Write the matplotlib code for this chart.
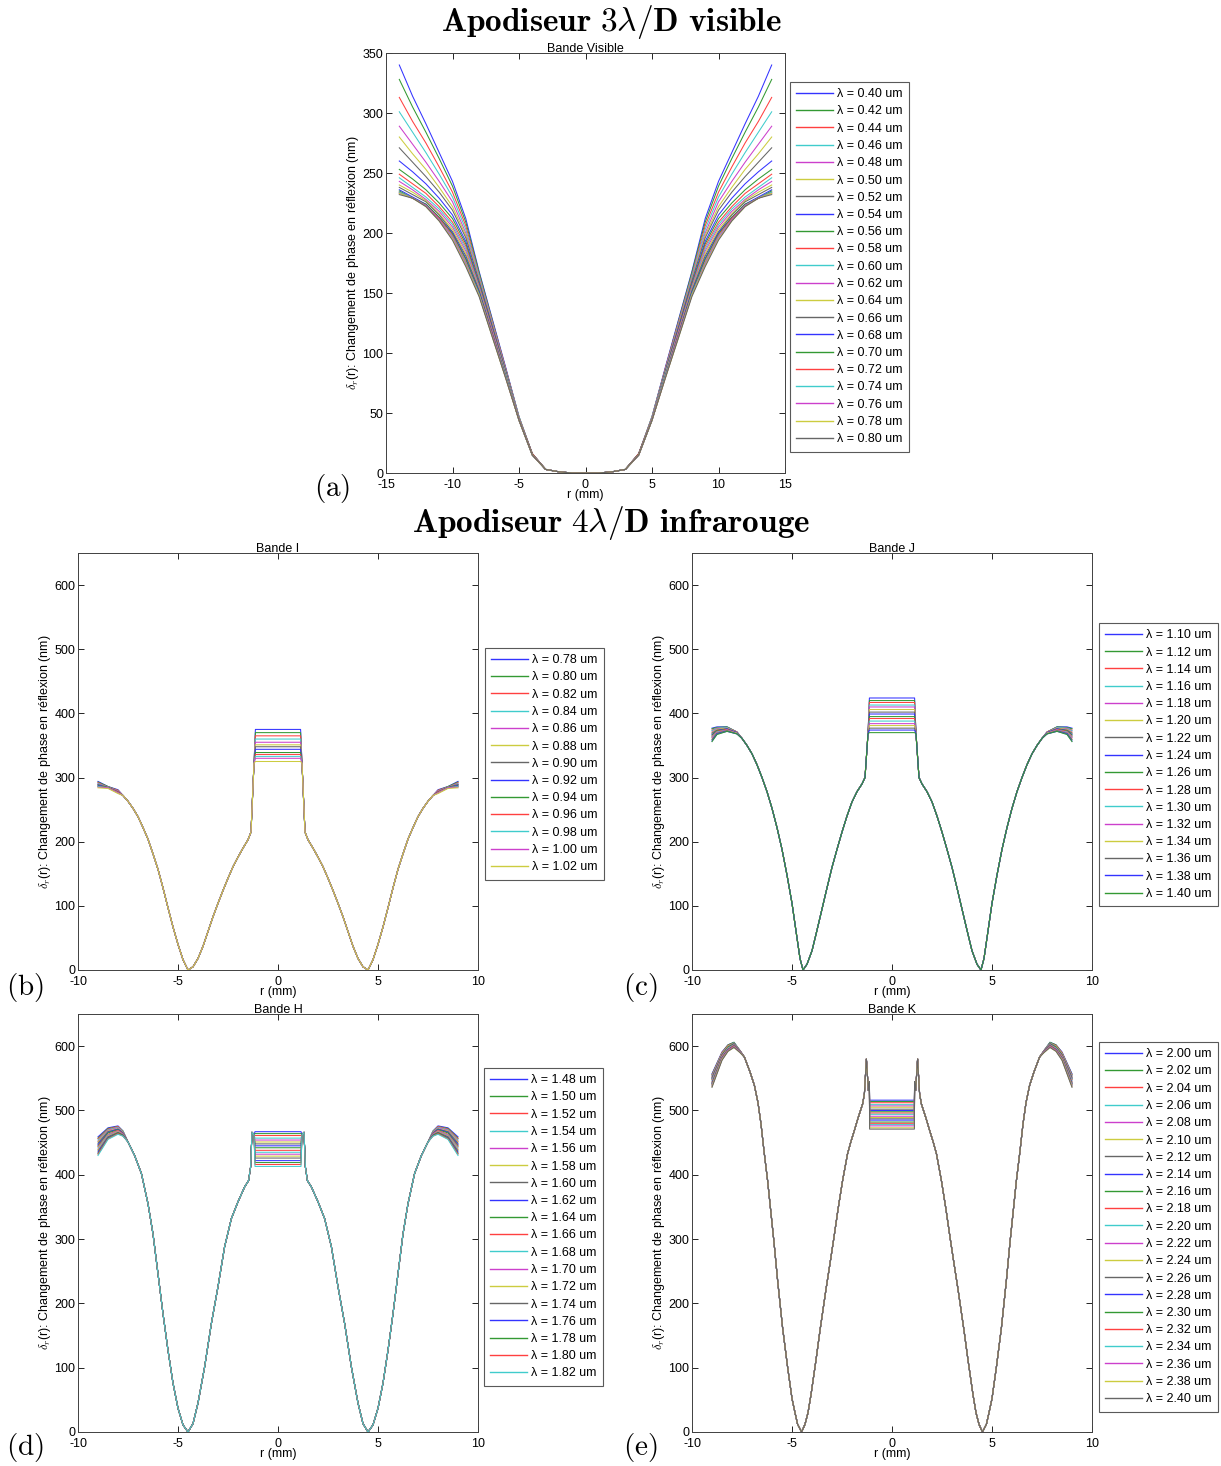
import numpy as np
import matplotlib
matplotlib.use('Agg')
import matplotlib.pyplot as plt

plt.rcParams['font.family'] = ['Liberation Sans', 'DejaVu Sans']
plt.rcParams['mathtext.fontset'] = 'cm'
plt.rcParams['axes.unicode_minus'] = False

# ---------------- Bande Visible (3 lambda/D) ----------------
vis_lambdas = [0.40, 0.42, 0.44, 0.46, 0.48, 0.50, 0.52, 0.54, 0.56, 0.58, 0.60,
               0.62, 0.64, 0.66, 0.68, 0.70, 0.72, 0.74, 0.76, 0.78, 0.80]
vis_r = [14, 13, 12, 11, 10, 9, 8, 7, 6, 5, 4, 3, 2, 1, 0]
vis_values = [
    [340, 314, 291, 267, 243, 212, 168, 128, 88, 47, 16, 3, 1, 0, 0],
    [328, 305, 284, 262, 239, 209, 167, 127, 87, 47, 16, 3, 1, 0, 0],
    [313, 293, 275, 255, 234, 206, 165, 126, 87, 46, 16, 3, 1, 0, 0],
    [301, 284, 267, 249, 230, 203, 164, 125, 86, 46, 16, 3, 1, 0, 0],
    [289, 274, 259, 243, 226, 200, 162, 124, 86, 46, 16, 3, 1, 0, 0],
    [280, 266, 253, 238, 222, 198, 161, 123, 85, 46, 16, 3, 1, 0, 0],
    [271, 259, 247, 234, 219, 196, 160, 122, 85, 45, 16, 3, 1, 0, 0],
    [260, 251, 241, 229, 215, 193, 158, 121, 84, 45, 16, 3, 1, 0, 0],
    [253, 245, 236, 225, 212, 191, 157, 120, 84, 45, 16, 3, 1, 0, 0],
    [249, 241, 233, 222, 209, 189, 156, 119, 83, 45, 16, 3, 1, 0, 0],
    [246, 238, 230, 220, 207, 187, 155, 118, 83, 45, 15, 3, 1, 0, 0],
    [243, 236, 228, 218, 205, 185, 154, 118, 82, 45, 15, 3, 1, 0, 0],
    [240, 234, 227, 216, 203, 183, 153, 117, 82, 44, 15, 3, 1, 0, 0],
    [238, 232, 226, 215, 201, 181, 152, 116, 81, 44, 15, 3, 1, 0, 0],
    [236, 230, 224, 213, 200, 179, 151, 116, 81, 44, 15, 3, 1, 0, 0],
    [235, 229, 224, 213, 199, 178, 150, 115, 80, 44, 15, 3, 1, 0, 0],
    [234, 229, 223, 212, 198, 176, 149, 115, 80, 44, 15, 3, 1, 0, 0],
    [234, 229, 223, 211, 197, 175, 149, 114, 80, 44, 15, 3, 1, 0, 0],
    [233, 229, 223, 211, 196, 174, 148, 114, 79, 44, 15, 3, 1, 0, 0],
    [233, 229, 222, 210, 195, 173, 148, 113, 79, 44, 15, 3, 1, 0, 0],
    [232, 229, 222, 210, 194, 172, 147, 113, 79, 44, 15, 3, 1, 0, 0],
]

# ---------------- Bande I ----------------
I_lambdas = [0.78, 0.80, 0.82, 0.84, 0.86, 0.88, 0.90, 0.92, 0.94, 0.96, 0.98, 1.00, 1.02]
I_plateau_end = 1.13
I_plateau = [375, 370, 365, 360, 355, 351, 348, 344, 339, 336, 333, 330, 325]
I_r = [1.2, 1.35, 1.5, 1.75, 2.0, 2.25, 2.5, 2.75, 3.0, 3.25, 3.5, 3.75, 4.0, 4.25, 4.5,
       4.75, 5.0, 5.25, 5.5, 5.75, 6.0, 6.25, 6.5, 6.75, 7.0, 7.25, 7.5, 7.75]
I_y = [322, 215, 203, 190, 176, 161, 143, 124, 104, 83, 60, 37, 18, 5, 0,
       16, 40, 67, 97, 128, 157, 181, 204, 222, 239, 252, 263, 272]
I_edge_r = [8.0, 8.5, 9.0]
I_edge = [
    [281, 286, 294], [280, 286, 293], [280, 285, 292], [279, 285, 291],
    [279, 285, 290], [278, 285, 289], [278, 285, 289], [277, 284, 288],
    [277, 284, 287], [277, 284, 286], [276, 284, 286], [276, 284, 285],
    [275, 283, 284],
]

# ---------------- Bande J ----------------
J_lambdas = [1.10, 1.12, 1.14, 1.16, 1.18, 1.20, 1.22, 1.24, 1.26, 1.28, 1.30,
             1.32, 1.34, 1.36, 1.38, 1.40]
J_plateau_end = 1.13
J_plateau = [424, 420, 417, 413, 410, 406, 402, 399, 395, 392, 388, 384, 381, 377, 374, 370]
J_r = [1.2, 1.35, 1.5, 1.75, 2.0, 2.25, 2.5, 2.75, 3.0, 3.25, 3.5, 3.75, 4.0, 4.25, 4.45,
       4.6, 4.75, 5.0, 5.25, 5.5, 5.75, 6.0, 6.25, 6.5, 6.75, 7.0, 7.25, 7.5]
J_y = [368, 300, 290, 278, 262, 240, 215, 188, 160, 128, 95, 62, 30, 9, 0,
       18, 50, 104, 148, 188, 222, 252, 278, 300, 320, 337, 350, 361]
J_edge_r = [7.75, 8.25, 8.75, 9.0]
J_edge = [
    [371, 379, 379, 377], [371, 379, 378, 376], [371, 378, 377, 374], [370, 378, 377, 373],
    [370, 377, 376, 371], [370, 377, 375, 370], [370, 376, 374, 369], [370, 376, 373, 367],
    [369, 375, 373, 366], [369, 375, 372, 364], [369, 374, 371, 363], [369, 374, 370, 362],
    [369, 373, 369, 360], [368, 373, 369, 359], [368, 372, 368, 357], [368, 372, 367, 356],
]

# ---------------- Bande H ----------------
H_lambdas = [1.48, 1.50, 1.52, 1.54, 1.56, 1.58, 1.60, 1.62, 1.64, 1.66, 1.68,
             1.70, 1.72, 1.74, 1.76, 1.78, 1.80, 1.82]
H_plateau_end = 1.15
H_plateau = [467, 464, 461, 457, 454, 451, 448, 445, 442, 438, 435, 432, 429, 426,
             422, 419, 416, 413]
H_r = [1.2, 1.3, 1.37, 1.47, 1.67, 2.0, 2.33, 2.67, 3.0, 3.33, 3.67, 4.0, 4.25, 4.5,
       4.75, 5.0, 5.25, 5.5, 5.75, 6.0, 6.25, 6.5, 6.83, 7.17, 7.5]
H_y = [462, 466, 412, 391, 381, 358, 332, 288, 226, 169, 101, 45, 13, 0,
       11, 37, 76, 127, 184, 246, 308, 355, 402, 430, 451]
H_edge_r = [7.75, 8.0, 8.5, 9.0]
H_edge = [
    [468, 476, 473, 459], [468, 475, 472, 457], [467, 475, 471, 456], [467, 474, 470, 454],
    [466, 473, 469, 452], [466, 472, 468, 451], [465, 471, 467, 449], [465, 471, 466, 447],
    [464, 470, 465, 445], [464, 469, 463, 444], [463, 468, 462, 442], [463, 468, 461, 440],
    [462, 467, 460, 439], [462, 466, 459, 437], [461, 465, 458, 435], [461, 465, 457, 433],
    [460, 464, 456, 432], [460, 463, 455, 430],
]

# ---------------- Bande K ----------------
K_lambdas = [2.00, 2.02, 2.04, 2.06, 2.08, 2.10, 2.12, 2.14, 2.16, 2.18, 2.20,
             2.22, 2.24, 2.26, 2.28, 2.30, 2.32, 2.34, 2.36, 2.38, 2.40]
K_plateau_end = 1.12
K_plateau = [516, 514, 512, 509, 507, 505, 502, 500, 498, 496, 494, 491, 489, 487,
             485, 482, 480, 478, 476, 473, 471]
K_r = [1.13, 1.18, 1.28, 1.38, 1.47, 1.7, 1.88, 2.05, 2.22, 2.47, 2.7, 2.9, 3.1, 3.3,
       3.6, 3.8, 4.05, 4.2, 4.35, 4.52, 4.72, 4.85, 5.0, 5.22, 5.47, 5.72, 5.9, 6.05,
       6.22, 6.4, 6.55, 6.7, 6.88, 7.1, 7.38]
K_y = [545, 531, 580, 526, 510, 488, 469, 452, 433, 391, 346, 303, 262, 222,
       158, 112, 58, 30, 12, 0, 12, 30, 52, 101, 162, 236, 295, 340,
       391, 437, 479, 512, 539, 560, 583]
K_edge_r = [7.6, 7.9, 8.2, 8.5, 9.0]
K_edge = [
    [593, 606, 602, 591, 557], [593, 606, 602, 590, 556], [593, 605, 601, 590, 555],
    [593, 605, 600, 589, 554], [593, 604, 600, 588, 553], [593, 604, 600, 588, 552],
    [593, 604, 599, 587, 551], [592, 603, 598, 586, 550], [592, 603, 598, 586, 549],
    [592, 602, 597, 585, 548], [592, 602, 597, 584, 547], [592, 602, 596, 584, 545],
    [592, 601, 596, 583, 544], [592, 601, 595, 582, 543], [591, 600, 595, 582, 542],
    [591, 600, 594, 581, 541], [591, 600, 594, 581, 540], [591, 599, 593, 580, 539],
    [591, 599, 593, 579, 538], [590, 598, 592, 579, 537], [590, 598, 592, 578, 536],
]

MATLAB_COLORS = [(0.2, 0.2, 1.0), (0.2, 0.6, 0.2), (1.0, 0.25, 0.25), (0.25, 0.8, 0.8),
                 (0.8, 0.25, 0.8), (0.8, 0.8, 0.25), (0.4, 0.4, 0.4)]
YLABEL = r'$\delta_r$(r): Changement de phase en réflexion (nm)'
FS = 9
LW = 0.75


def mirror(rp, yp):
    rp = np.asarray(rp, float)
    yp = np.asarray(yp, float)
    r = np.concatenate([-rp[::-1], rp[1:]])
    y = np.concatenate([yp[::-1], yp[1:]])
    return r, y


def style_axes(ax, title):
    ax.set_title(title, fontsize=FS, pad=0.5)
    ax.set_xlabel('r (mm)', fontsize=FS, labelpad=-1)
    ax.set_ylabel(YLABEL, fontsize=FS, labelpad=1)
    ax.tick_params(direction='in', top=True, right=True, length=4, width=0.6,
                   labelsize=FS)
    ax.tick_params(axis='x', pad=4)
    ax.tick_params(axis='y', pad=2)
    for s in ax.spines.values():
        s.set_linewidth(0.7)
        s.set_color('0.25')


def add_legend(ax, x, y):
    leg = ax.legend(loc='upper left', bbox_to_anchor=(x, y),
                    bbox_transform=fig.transFigure, borderaxespad=0,
                    fontsize=FS, handlelength=2.9, handletextpad=0.35,
                    labelspacing=0.42, borderpad=0.5, fancybox=False,
                    framealpha=1, edgecolor='0.35')
    leg.get_frame().set_linewidth(0.8)
    for line in leg.get_lines():
        line.set_linewidth(1.0)


fig = plt.figure(figsize=(12.21, 14.66), dpi=100)
W, H = 1221.0, 1466.0


def axes_px(left, top, right, bottom):
    return fig.add_axes([left / W, 1 - bottom / H, (right - left) / W, (bottom - top) / H])


# ---- (a) visible
axv = axes_px(386, 53, 785, 473)
for k, lam in enumerate(vis_lambdas):
    r, y = mirror(vis_r[::-1], vis_values[k][::-1])
    axv.plot(r, y, color=MATLAB_COLORS[k % 7], lw=LW,
             label='λ = %.2f um' % lam)
axv.set_xlim(-15, 15)
axv.set_ylim(0, 350)
axv.set_xticks(np.arange(-15, 16, 5))
axv.set_yticks(np.arange(0, 351, 50))
style_axes(axv, 'Bande Visible')
add_legend(axv, 790 / W, 1 - 82 / H)


def ir_panel(box, title, lambdas, plateau_end, plateau, r_sh, y_sh, edge_r, edge, leg_xy):
    ax = axes_px(*box)
    for k, lam in enumerate(lambdas):
        rp = [0.0, plateau_end] + list(r_sh) + list(edge_r)
        yp = [plateau[k], plateau[k]] + list(y_sh) + list(edge[k])
        r, y = mirror(rp, yp)
        ax.plot(r, y, color=MATLAB_COLORS[k % 7], lw=LW,
                label='λ = %.2f um' % lam)
    ax.set_xlim(-10, 10)
    ax.set_ylim(0, 650)
    ax.set_xticks([-10, -5, 0, 5, 10])
    ax.set_yticks(np.arange(0, 601, 100))
    style_axes(ax, title)
    add_legend(ax, leg_xy[0] / W, 1 - leg_xy[1] / H)
    return ax


ir_panel((78, 553, 478, 970), 'Bande I', I_lambdas, I_plateau_end, I_plateau,
         I_r, I_y, I_edge_r, I_edge, (485, 648))
ir_panel((692, 553, 1092, 970), 'Bande J', J_lambdas, J_plateau_end, J_plateau,
         J_r, J_y, J_edge_r, J_edge, (1099, 623))
ir_panel((78, 1014, 478, 1432), 'Bande H', H_lambdas, H_plateau_end, H_plateau,
         H_r, H_y, H_edge_r, H_edge, (484, 1068))
ir_panel((692, 1014, 1092, 1432), 'Bande K', K_lambdas, K_plateau_end, K_plateau,
         K_r, K_y, K_edge_r, K_edge, (1099, 1042))

# ---- headings and panel letters
fig.text(611 / W, 1 - 22 / H, r'$\mathbf{Apodiseur\ 3}\lambda\mathbf{/D\ visible}$',
         ha='center', va='center', fontsize=24)
fig.text(611 / W, 1 - 523 / H, r'$\mathbf{Apodiseur\ 4}\lambda\mathbf{/D\ infrarouge}$',
         ha='center', va='center', fontsize=24)
for lab, (px, py) in zip('abcde', [(332, 488), (25, 988), (640, 988), (25, 1447), (640, 1447)]):
    fig.text(px / W, 1 - py / H, r'$(\mathrm{%s})$' % lab, ha='center', va='center',
             fontsize=21)

fig.savefig('out.png', dpi=100)
